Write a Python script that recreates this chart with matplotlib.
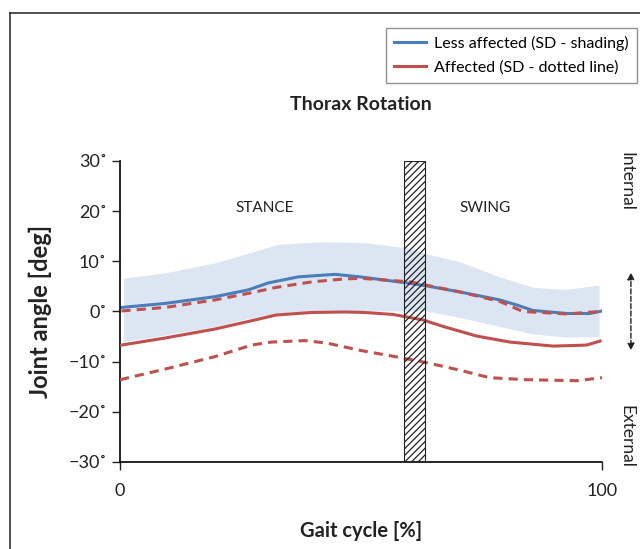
import matplotlib.pyplot as plt
import numpy as np

plt.rcParams['font.family'] = ['Lato', 'DejaVu Sans']
plt.rcParams['hatch.linewidth'] = 0.9

# less affected: mean and SD band
blue_x = [0.3, 9.3, 19.7, 26.6, 30.8, 37, 44.6, 49.8, 60.2, 63.6, 70.5, 78.8, 82.3,
          85.7, 92.7, 97.5, 100]
blue_mean = [0.8, 1.6, 2.95, 4.3, 5.7, 6.9, 7.4, 6.9, 5.6, 5.1, 3.9, 2.3, 1.3,
             0.2, -0.4, -0.4, 0.1]

band_x = [0.7, 9.3, 19.7, 26.6, 32.8, 41.8, 50.8, 60.2, 63.6, 70.5, 78.8, 85.7, 92.7, 99.4]
band_hi = [6.6, 7.7, 9.7, 11.6, 13.4, 13.9, 13.7, 12.6, 11.5, 9.9, 6.9, 4.8, 4.4, 5.3]
band_lo = [-6.0, -4.7, -3.0, -1.4, -0.2, 0.1, 0.1, 0.1, 0.1, -1.2, -3.0, -4.5, -5.1, -5.0]

# affected: mean and SD (dashed)
red_x = [0.3, 9.3, 19.7, 26.6, 32.4, 39.8, 46.7, 50.8, 56.7, 62.9, 67.1, 74, 80.9,
         89.9, 96.8, 99.6]
red_mean = [-6.7, -5.3, -3.5, -2.0, -0.7, -0.2, -0.1, -0.2, -0.6, -1.7, -3.0, -4.9,
            -6.1, -6.9, -6.7, -5.9]

red_hi_x = [0.3, 9.3, 19.7, 26.6, 32.4, 39.8, 46.7, 50.1, 60.2, 70.5, 78.8, 83.6,
            92.7, 99.6]
red_hi = [0.1, 0.8, 2.3, 3.6, 4.8, 5.9, 6.5, 6.6, 5.9, 3.9, 2.0, 0.0, -0.5, 0.0]

red_lo_x = [0, 9.3, 19.7, 27.3, 31.4, 38.3, 42.9, 50.1, 58.8, 63.6, 70.5, 76.7,
            84.4, 94.8, 100]
red_lo = [-13.6, -11.5, -9.0, -6.7, -6.1, -5.8, -6.3, -7.8, -9.3, -10.2, -11.7,
          -13.2, -13.6, -13.8, -13.2]

toe_off = (59, 63.3)
yticks = [-30, -20, -10, 0, 10, 20, 30]
ytick_labels = ['\u221230\u02da', '\u221220\u02da', '\u221210\u02da', '0\u02da',
                '10\u02da', '20\u02da', '30\u02da']

blue = '#4a7ebb'
red = '#c0504d'
band = '#dce6f2'
ink = '#222222'

fig = plt.figure(figsize=(6.4, 5.49), dpi=100)
ax = fig.add_axes([0.1875, 0.1585, 0.7531, 0.5483])

ax.fill_between(band_x, band_lo, band_hi, color=band, lw=0, zorder=1)
ax.plot(red_hi_x, red_hi, color=red, lw=2.2, ls=(0, (3, 2)), zorder=3)
ax.plot(red_lo_x, red_lo, color=red, lw=2.2, ls=(0, (3, 2)), zorder=3)
ax.plot(blue_x, blue_mean, color=blue, lw=2.2, zorder=2, label='Less affected (SD - shading)')
ax.plot(red_x, red_mean, color=red, lw=2.2, zorder=3, label='Affected (SD - dotted line)')

ax.axvspan(toe_off[0], toe_off[1], facecolor='none', edgecolor=ink,
           hatch='/////', lw=0.8, zorder=4)

ax.set_xlim(0, 100)
ax.set_ylim(-30, 30)
ax.set_xticks([0, 100])
ax.set_yticks(yticks)
ax.set_yticklabels(ytick_labels)
ax.tick_params(labelsize=13, colors=ink, length=6, width=1)
for s in ['top', 'right']:
    ax.spines[s].set_visible(False)
for s in ['left', 'bottom']:
    ax.spines[s].set_linewidth(1.2)
ax.tick_params(axis='x', pad=9)

ax.set_xlabel('Gait cycle [%]', fontsize=14.5, fontweight='bold', labelpad=16, color=ink)
ax.set_ylabel('Joint angle [deg]', fontsize=17, fontweight='bold', labelpad=12, color=ink)
ax.set_title('Thorax Rotation', fontsize=14, fontweight='bold', pad=37, color=ink)

ax.text(30, 20.6, 'STANCE', fontsize=11, ha='center', va='center', color=ink)
ax.text(75.7, 20.6, 'SWING', fontsize=11, ha='center', va='center', color=ink)

ax.text(1.05, 26, 'Internal', transform=ax.get_yaxis_transform(), rotation=-90,
        fontsize=12.5, ha='center', va='center', color=ink)
ax.text(1.05, -25, 'External', transform=ax.get_yaxis_transform(), rotation=-90,
        fontsize=12.5, ha='center', va='center', color=ink)
ax.annotate('', xy=(1.06, -8.3), xytext=(1.06, 8.3), xycoords=ax.get_yaxis_transform(),
            arrowprops=dict(arrowstyle='<|-|>', ls='--', color=ink, lw=1,
                            mutation_scale=10), annotation_clip=False)

leg = fig.legend(loc='upper right', bbox_to_anchor=(0.9953, 0.949), fontsize=11.5,
                 frameon=True, fancybox=False, edgecolor='#777777', borderpad=0.5,
                 borderaxespad=0, handlelength=2.0, handletextpad=0.55,
                 labelspacing=0.6)
leg.get_frame().set_linewidth(1)

# outer frame of the figure
fig.add_artist(plt.Line2D([10/640, 10/640], [0, 1 - 13/549], color='#333333', lw=1.2))
fig.add_artist(plt.Line2D([10/640, 1], [1 - 13/549, 1 - 13/549], color='#333333', lw=1.2))

fig.savefig('out.png', dpi=100)
